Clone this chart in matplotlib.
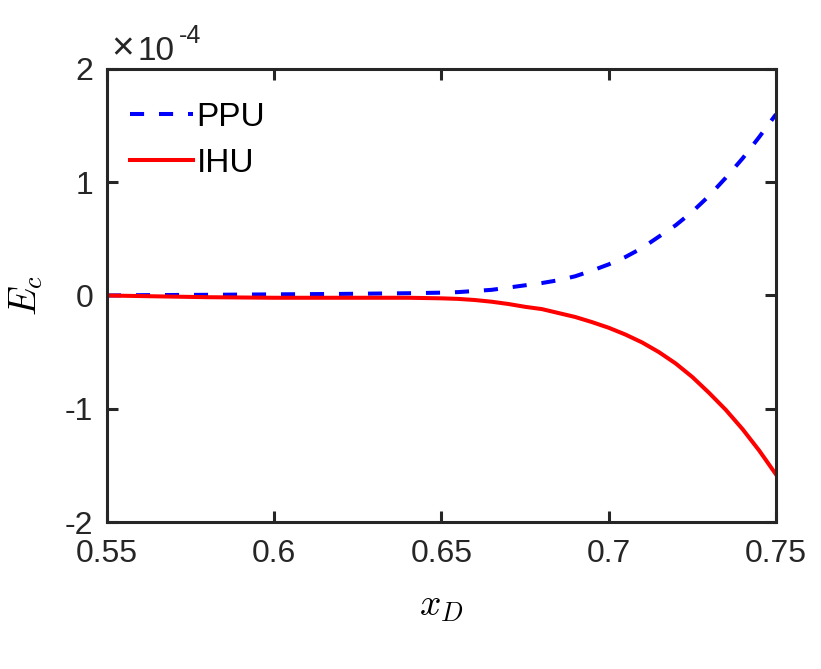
import numpy as np
from matplotlib import pyplot as plt

x_d = [0.55, 0.56, 0.58, 0.60, 0.62, 0.64, 0.65, 0.655, 0.66, 0.665, 0.67,
       0.675, 0.68, 0.685, 0.69, 0.695, 0.70, 0.705, 0.71, 0.715, 0.72,
       0.725, 0.73, 0.735, 0.74, 0.745, 0.75]
ppu = [0.0, 0.003, 0.006, 0.01, 0.014, 0.02, 0.025, 0.03, 0.04, 0.05, 0.07,
       0.09, 0.11, 0.135, 0.17, 0.22, 0.275, 0.34, 0.42, 0.52, 0.62,
       0.74, 0.88, 1.04, 1.21, 1.40, 1.60]
ihu = [0.0, -0.005, -0.015, -0.02, -0.02, -0.02, -0.025, -0.03, -0.04, -0.055,
       -0.075, -0.10, -0.12, -0.155, -0.19, -0.235, -0.285, -0.345, -0.415,
       -0.50, -0.60, -0.72, -0.86, -1.01, -1.18, -1.37, -1.58]
scale = 1e-4

x_ticks = [0.55, 0.6, 0.65, 0.7, 0.75]
x_ticklabels = ["0.55", "0.6", "0.65", "0.7", "0.75"]
y_ticks = [-2e-4, -1e-4, 0, 1e-4, 2e-4]
y_ticklabels = ["-2", "-1", "0", "1", "2"]

plt.rcParams["font.family"] = ["Liberation Sans", "DejaVu Sans"]
plt.rcParams["axes.unicode_minus"] = False

dark = "#262626"
fig = plt.figure(figsize=(8.21, 6.69), dpi=100)
ax = fig.add_axes([0.1303, 0.2197, 0.8149, 0.6772])

ax.plot(x_d, np.array(ppu) * scale, color="b", lw=2.9, ls=(0, (3.5, 3.7)),
        label="PPU")
ax.plot(x_d, np.array(ihu) * scale, color="r", lw=2.9, label="IHU")

ax.set_xlim(0.55, 0.75)
ax.set_ylim(-2e-4, 2e-4)
ax.set_xticks(x_ticks)
ax.set_xticklabels(x_ticklabels)
ax.set_yticks(y_ticks)
ax.set_yticklabels(y_ticklabels)

for s in ax.spines.values():
    s.set_linewidth(2.2)
    s.set_color(dark)
ax.tick_params(direction="in", length=8, width=2.2, labelsize=23,
               colors=dark, top=True, right=True)
ax.tick_params(axis="x", pad=12)
ax.tick_params(axis="y", pad=10)

# exponent label above the y axis
ax.text(0.006, 1.022, "\u00d7", transform=ax.transAxes, fontsize=28,
        color=dark, ha="left", va="baseline")
ax.text(0.046, 1.02, "10", transform=ax.transAxes, fontsize=24,
        color=dark, ha="left", va="baseline")
ax.text(0.107, 1.057, "-4", transform=ax.transAxes, fontsize=18,
        color=dark, ha="left", va="baseline")

ax.set_xlabel(r"$x_D$", fontsize=27, math_fontfamily="cm", labelpad=14)
ax.set_ylabel(r"$E_c$", fontsize=27, math_fontfamily="cm", labelpad=14)

ax.legend(loc="upper left", bbox_to_anchor=(0.034, 0.928), frameon=False,
          fontsize=24, handlelength=1.9, handletextpad=0.1,
          labelspacing=0.45, borderaxespad=0, borderpad=0)

plt.savefig("out.png", dpi=100)
